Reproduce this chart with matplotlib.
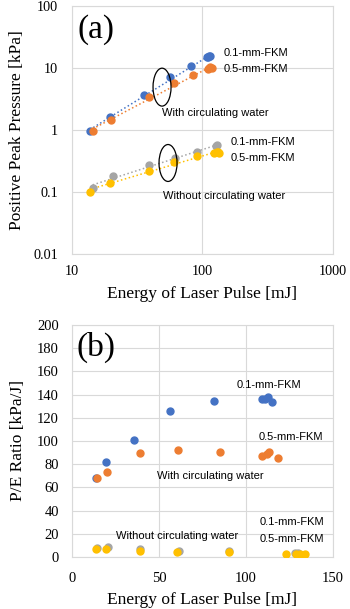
import numpy as np
import matplotlib
matplotlib.use("Agg")
import matplotlib.pyplot as plt
from matplotlib.patches import Ellipse

# ---- data ----
# (a) positive peak pressure [kPa] vs laser energy [mJ]
e_01_w = [13.7, 19.5, 35.8, 56.3, 81.6, 109.0, 111.0, 112.8, 114.8]
p_01_w = [0.95, 1.62, 3.67, 7.07, 10.9, 14.9, 15.2, 15.5, 15.4]
e_05_w = [14.4, 20.0, 38.9, 60.9, 85.0, 109.4, 111.9, 113.4, 118.6]
p_05_w = [0.98, 1.47, 3.45, 5.66, 7.7, 9.6, 9.9, 10.3, 10.1]
e_01_wo = [14.4, 20.5, 39.2, 61.6, 90.1, 128.0, 130.0]
p_01_wo = [0.117, 0.181, 0.272, 0.35, 0.447, 0.558, 0.57]
e_05_wo = [13.7, 19.5, 38.9, 60.4, 90.0, 122.8, 129.0, 131.0, 134.0]
p_05_wo = [0.101, 0.141, 0.22, 0.308, 0.38, 0.42, 0.44, 0.44, 0.43]

# (b) P/E ratio [kPa/J]
r_01_w = [68.4, 81.6, 100.9, 126.0, 134.5, 136.5, 136.5, 137.8, 134.0]
r_05_w = [68.4, 73.3, 89.7, 92.0, 90.5, 87.3, 88.8, 90.8, 85.3]
r_01_wo = [7.5, 8.4, 6.5, 5.0, 4.8, 3.6, 3.6]
r_05_wo = [6.9, 6.9, 5.5, 4.6, 4.0, 2.6, 2.6, 2.6, 2.6]

BLUE, ORANGE, GRAY, YELLOW = "#4472C4", "#ED7D31", "#A5A5A5", "#FFC000"
GRID = "#d9d9d9"
SERIF = "Liberation Serif"
SANS = "Liberation Sans"

series = [
    (e_01_w, p_01_w, r_01_w, BLUE),
    (e_05_w, p_05_w, r_05_w, ORANGE),
    (e_01_wo, p_01_wo, r_01_wo, GRAY),
    (e_05_wo, p_05_wo, r_05_wo, YELLOW),
]


def style_axes(ax, size, xpad, ypad):
    for s in ax.spines.values():
        s.set_color(GRID)
    ax.tick_params(axis="x", length=0, labelsize=size, pad=xpad)
    ax.tick_params(axis="y", length=0, labelsize=size, pad=ypad)
    for lab in ax.get_xticklabels() + ax.get_yticklabels():
        lab.set_family(SERIF)
    ax.grid(True, color=GRID, linewidth=0.8)
    ax.set_axisbelow(True)


def note(ax, x, y, s):
    ax.text(x, y, s, family=SANS, fontsize=8, va="center")


fig = plt.figure(figsize=(3.5, 6.09), dpi=100)

# ---- panel (a) ----
ax1 = fig.add_axes([0.2057, 0.583, 0.7457, 0.407])
ax1.set_xscale("log")
ax1.set_yscale("log")
ax1.set_xlim(10, 1000)
ax1.set_ylim(0.01, 100)
for e, p, _, c in series:
    ax1.plot(e, p, "o", color=c, markersize=5, zorder=3)
    # power-law trendline (straight on log-log)
    k, b = np.polyfit(np.log10(e), np.log10(p), 1)
    xs = np.array([min(e), max(e)])
    ax1.plot(xs, 10 ** (k * np.log10(xs) + b), ":", color=c, linewidth=1.1, zorder=2)
ax1.set_xticks([10, 100, 1000])
ax1.set_xticklabels(["10", "100", "1000"])
ax1.set_yticks([0.01, 0.1, 1, 10, 100])
ax1.set_yticklabels(["0.01", "0.1", "1", "10", "100"])
ax1.minorticks_off()
style_axes(ax1, 10.3, 8, 10)
ax1.set_xlabel("Energy of Laser Pulse [mJ]", family=SERIF, fontsize=12.5, labelpad=6)
ax1.set_ylabel("Positive Peak Pressure [kPa]", family=SERIF, fontsize=12.5, labelpad=6)

ax1.text(0.023, 0.905, "(a)", transform=ax1.transAxes, family=SERIF, fontsize=24, va="center")
note(ax1, 146, 17.5, "0.1-mm-FKM")
note(ax1, 146, 9.6, "0.5-mm-FKM")
note(ax1, 48.9, 1.88, "With circulating water")
note(ax1, 165, 0.64, "0.1-mm-FKM")
note(ax1, 165, 0.353, "0.5-mm-FKM")
note(ax1, 49.8, 0.086, "Without circulating water")
ax1.add_patch(Ellipse((0.345, 0.673), 0.069, 0.153, transform=ax1.transAxes,
                      fill=False, edgecolor="black", linewidth=0.9, zorder=4))
ax1.add_patch(Ellipse((0.368, 0.367), 0.069, 0.149, transform=ax1.transAxes,
                      fill=False, edgecolor="black", linewidth=0.9, zorder=4))

# ---- panel (b) ----
ax2 = fig.add_axes([0.2057, 0.0854, 0.7457, 0.381])
for e, _, r, c in series:
    ax2.plot(e, r, "o", color=c, markersize=5, zorder=3)
ax2.set_xlim(0, 150)
ax2.set_ylim(0, 200)
ax2.set_xticks([0, 50, 100, 150])
ax2.set_yticks(np.arange(0, 201, 20))
style_axes(ax2, 10.5, 11, 9.5)
ax2.set_xlabel("Energy of Laser Pulse [mJ]", family=SERIF, fontsize=12.5, labelpad=5)
ax2.set_ylabel("P/E Ratio [kPa/J]", family=SERIF, fontsize=12.5, labelpad=8)

ax2.text(0.019, 0.905, "(b)", transform=ax2.transAxes, family=SERIF, fontsize=24, va="center")
note(ax2, 94.8, 148, "0.1-mm-FKM")
note(ax2, 107.5, 103, "0.5-mm-FKM")
note(ax2, 48.9, 70, "With circulating water")
note(ax2, 25.3, 18, "Without circulating water")
note(ax2, 108, 30, "0.1-mm-FKM")
note(ax2, 108, 15.5, "0.5-mm-FKM")

fig.savefig("out.png", dpi=100)
